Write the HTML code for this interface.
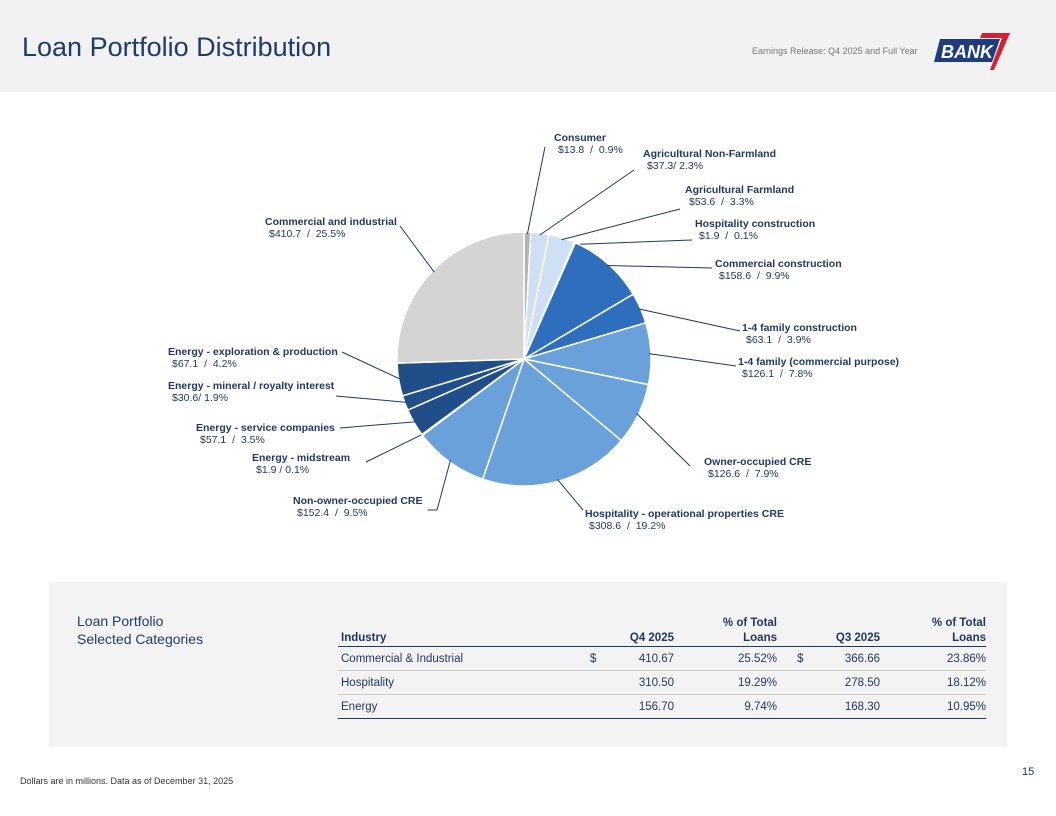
<!DOCTYPE html>
<html><head><meta charset="utf-8"><style>
body{margin:0;width:1056px;height:816px;background:#fff;font-family:"Liberation Sans",sans-serif;position:relative;overflow:hidden}
.hdr{position:absolute;left:0;top:0;width:1056px;height:92px;background:#f2f2f2}
.title{position:absolute;left:22px;top:32px;font-size:27px;color:#1f3c6e}
.sub{position:absolute;left:752px;top:46px;font-size:9px;color:#777}
.panel{position:absolute;left:49px;top:582px;width:958px;height:165px;background:#f3f3f3}
table{position:absolute;left:338px;top:614px;border-collapse:collapse;font-size:11.5px;color:#1f3864;table-layout:fixed;width:648px}
td,th{padding:0;height:23px}
th{font-weight:bold;vertical-align:bottom;height:32px;border-bottom:1.5px solid #1f3864;line-height:15px}
tr.r td{border-bottom:1px solid #ccc}
tr.last td{border-bottom:1.5px solid #1f3864}
.n{text-align:right}
td:first-child,th:first-child{padding-left:3px}
</style></head><body>
<div class="hdr"></div>
<div class="title">Loan Portfolio Distribution</div>
<div class="sub">Earnings Release: Q4 2025 and Full Year</div>
<svg style="position:absolute;left:932px;top:30px" width="82" height="40">
<polygon points="8,9 68,9 60,32 2,32" fill="#1f3c7e"/>
<text x="9" y="28" font-size="18" font-weight="bold" font-style="italic" fill="#fff" font-family="Liberation Sans">BANK</text>
<polygon points="50,3 78,3 62,40 58,40 70,8 48,8" fill="#d42030"/>
</svg>
<svg id="pie" width="1056" height="600" style="position:absolute;left:0;top:0"></svg>
<div style="position:absolute;left:20px;top:776px;font-size:9px;color:#333">Dollars are in millions. Data as of December 31, 2025</div>
<div style="position:absolute;left:1022px;top:766px;font-size:11px;color:#1f3864">15</div>
<div class="panel"></div>
<div style="position:absolute;left:77px;top:612px;font-size:14px;color:#1f3c6e;line-height:18px">Loan Portfolio<br>Selected Categories</div>
<table>
<colgroup><col style="width:252px"><col style="width:10px"><col style="width:74px"><col style="width:103px"><col style="width:33px"><col style="width:70px"><col style="width:106px"></colgroup>
<tr><th style="text-align:left">Industry</th><th></th><th class="n">Q4 2025</th><th class="n">% of Total<br>Loans</th><th></th><th class="n">Q3 2025</th><th class="n">% of Total<br>Loans</th></tr>
<tr class="r"><td>Commercial &amp; Industrial</td><td>$</td><td class="n">410.67</td><td class="n">25.52%</td><td style="padding-left:20px">$</td><td class="n">366.66</td><td class="n">23.86%</td></tr>
<tr class="r"><td>Hospitality</td><td></td><td class="n">310.50</td><td class="n">19.29%</td><td></td><td class="n">278.50</td><td class="n">18.12%</td></tr>
<tr class="last"><td>Energy</td><td></td><td class="n">156.70</td><td class="n">9.74%</td><td></td><td class="n">168.30</td><td class="n">10.95%</td></tr>
</table>
<script>
const categories=["Consumer","Agricultural Non-Farmland","Agricultural Farmland","Hospitality construction","Commercial construction","1-4 family construction","1-4 family (commercial purpose)","Owner-occupied CRE","Hospitality - operational properties CRE","Non-owner-occupied CRE","Energy - midstream","Energy - service companies","Energy - mineral / royalty interest","Energy - exploration & production","Commercial and industrial"];
const values=[13.8,37.3,53.6,1.9,158.6,63.1,126.1,126.6,308.6,152.4,1.9,57.1,30.6,67.1,410.7];
const percents=["0.9%","2.3%","3.3%","0.1%","9.9%","3.9%","7.8%","7.9%","19.2%","9.5%","0.1%","3.5%","1.9%","4.2%","25.5%"];
const sep=["  /  ","/ ","  /  ","  /  ","  /  ","  /  ","  /  ","  /  ","  /  ","  /  "," / ","  /  ","/ ","  /  ","  /  "];
const colors=["#b4b4b4","#cfe0f4","#cfe0f4","#cfe0f4","#2e6fbd","#2e6fbd","#6aa1db","#6aa1db","#6aa1db","#6aa1db","#1f4e89","#1f4e89","#1f4e89","#1f4e89","#d4d4d4"];
const lay=[[554,141,"l",545,147],[643,157,"l",634,170],[685,193,"l",680,209],[695,227,"l",692,240],[715,267,"l",712,268],[742,331,"l",740,331],[738,365,"l",736,366],[704,465,"l",690,466],[585,517,"l",583,510],[293,504,"l",437,510],[252,461,"l",366,462],[196,431,"l",340,428],[168,389,"l",336,396],[168,355,"l",342,352],[265,225,"l",400,226]];
const svg=document.getElementById('pie');const NS="http://www.w3.org/2000/svg";
const cx=524,cy=359,R=127;
const total=values.reduce((a,b)=>a+b,0);
function pt(a,r){return [cx+r*Math.sin(a),cy-r*Math.cos(a)];}
let a0=0;
values.forEach((v,i)=>{
 const a1=a0+v/total*2*Math.PI;
 const p0=pt(a0,R),p1=pt(a1,R);
 const p=document.createElementNS(NS,'path');
 p.setAttribute('d',`M${cx},${cy}L${p0[0]},${p0[1]}A${R},${R} 0 ${a1-a0>Math.PI?1:0} 1 ${p1[0]},${p1[1]}Z`);
 p.setAttribute('fill',colors[i]);p.setAttribute('stroke','#fff');p.setAttribute('stroke-width','1.5');
 
 
 svg.appendChild(p);
 const m=(a0+a1)/2,e=pt(m,R-2),L=lay[i];
 const ln=document.createElementNS(NS,'polyline');
 let pts=`${e[0]},${e[1]} ${L[3]},${L[4]}`;
 if(i==9)pts+=` 428,510`;
 ln.setAttribute('points',pts);ln.setAttribute('fill','none');ln.setAttribute('stroke','#1f3864');ln.setAttribute('stroke-width','1');
 
 
 svg.appendChild(ln);
 let lx=L[0];
 const t=document.createElementNS(NS,'text');
 t.setAttribute('x',lx);t.setAttribute('y',L[1]);t.setAttribute('font-size','10.5');t.setAttribute('fill','#1f3864');t.setAttribute('font-family','Liberation Sans');
 t.setAttribute('xml:space','preserve');t.setAttribute('style','white-space:pre');
 
 
 const s1=document.createElementNS(NS,'tspan');s1.setAttribute('x',lx);s1.setAttribute('font-weight','bold');s1.textContent=categories[i];
 const s2=document.createElementNS(NS,'tspan');s2.setAttribute('x',lx+4);s2.setAttribute('dy','12');s2.textContent='$'+values[i].toFixed(1)+sep[i]+percents[i];
 t.appendChild(s1);t.appendChild(s2);svg.appendChild(t);
 a0=a1;
});
</script>
</body></html>
